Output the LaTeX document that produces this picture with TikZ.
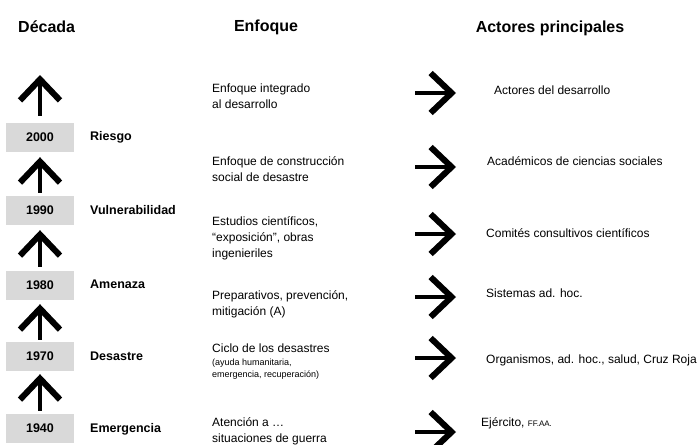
\documentclass[tikz,border=0pt]{standalone}
\usepackage{fontspec}
\setmainfont{Liberation Sans}
\usetikzlibrary{arrows.meta}
\definecolor{boxgray}{RGB}{217,217,217}

\begin{document}
\begin{tikzpicture}[
    x=1pt, y=-1pt,
    colhead/.style={
      inner sep=0pt,
      font=\bfseries\fontsize{16}{19}\selectfont
    },
    yearbox/.style={
      rectangle,
      fill=boxgray,
      minimum width=68pt,
      minimum height=29pt,
      inner sep=0pt,
      font=\bfseries\fontsize{12.5}{14}\selectfont
    },
    phase/.style={
      anchor=west,
      inner sep=0pt,
      font=\bfseries\fontsize{12.5}{15}\selectfont
    },
    focus/.style={
      anchor=west,
      inner sep=0pt,
      align=left,
      font=\fontsize{12}{16}\selectfont
    },
    actor/.style={
      anchor=west,
      inner sep=0pt,
      font=\fontsize{12}{16}\selectfont
    },
    bigarrow/.style={
      line width=4.5pt,
      -{Straight Barb[length=21pt,width=40pt,line width=0pt 1.35]}
    }
  ]
  \useasboundingbox (0,0) rectangle (700,444);

  % column heads
  \node[colhead, anchor=west] (hdecada) at (18,27) {Década};
  \node[colhead] (henfoque) at (266,27) {Enfoque};
  \node[colhead] (hactores) at (550,28) {Actores principales};

  % decades
  \node[yearbox] (y2000) at (40,137.5) {2000};
  \node[yearbox] (y1990) at (40,210.5) {1990};
  \node[yearbox] (y1980) at (40,285.5) {1980};
  \node[yearbox] (y1970) at (40,356.5) {1970};
  \node[yearbox] (y1940) at (40,428.5) {1940};

  \node[phase] (riesgo) at (90,137.5) {Riesgo};
  \node[phase] (vulner) at (90,210.5) {Vulnerabilidad};
  \node[phase] (amenaza) at (90,284) {Amenaza};
  \node[phase] (desastre) at (90,356.5) {Desastre};
  \node[phase] (emerg) at (90,429) {Emergencia};

  \coordinate (top) at (40,75);
  \draw[bigarrow, shorten <=7pt] (y2000.north) -- (top);
  \draw[bigarrow, shorten <=3pt, shorten >=5pt] (y1990.north) -- (y2000.south);
  \draw[bigarrow, shorten <=4pt, shorten >=5pt] (y1980.north) -- (y1990.south);
  \draw[bigarrow, shorten <=2pt, shorten >=4pt] (y1970.north) -- (y1980.south);
  \draw[bigarrow, shorten <=3pt, shorten >=3pt] (y1940.north) -- (y1970.south);

  % enfoques
  \node[focus] (f1) at (212,96) {Enfoque integrado\\al desarrollo};
  \node[focus] (f2) at (212,169) {Enfoque de construcción\\social de desastre};
  \node[focus] (f3) at (212,238) {Estudios científicos,\\“exposición”, obras\\ingenieriles};
  \node[focus] (f4) at (212,304) {Preparativos, prevención,\\mitigación (A)};
  \node[focus] (f5) at (212,362) {Ciclo de los desastres\\[-3pt]
    \fontsize{9}{11}\selectfont (ayuda humanitaria,\\[-4pt]
    \fontsize{9}{11}\selectfont emergencia, recuperación)};
  \node[focus] (f6) at (212,431) {Atención a …\\situaciones de guerra};

  % actores
  \node[actor] (a1) at (494,90) {Actores del desarrollo};
  \node[actor] (a2) at (487,161) {Académicos de ciencias sociales};
  \node[actor] (a3) at (486,233) {Comités consultivos científicos};
  \node[actor] (a4) at (486,293) {Sistemas ad. hoc.};
  \node[actor] (a5) at (486,360) {Organismos, ad. hoc., salud, Cruz Roja};
  \node[actor] (a6) at (481,423) {Ejército, {\fontsize{8}{9}\selectfont FF.AA.}};

  \foreach \i/\y in {1/93, 2/167, 3/234, 4/297, 5/358, 6/432} {
    \coordinate (s\i) at (415,\y);
    \coordinate (t\i) at (456,\y);
    \draw[bigarrow] (s\i) -- (t\i);
  }
\end{tikzpicture}
\end{document}
